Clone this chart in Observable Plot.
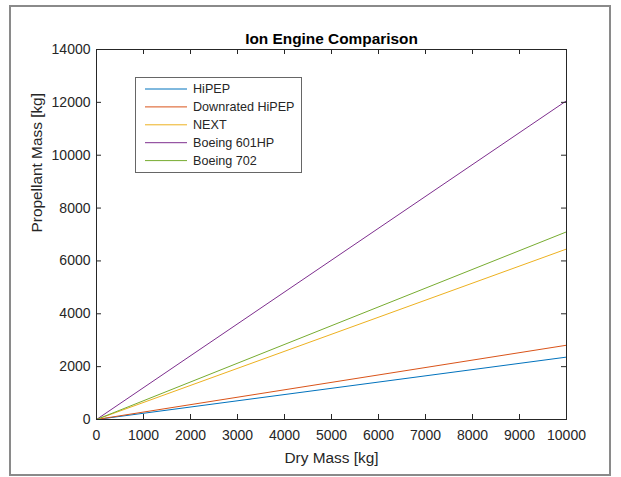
<!DOCTYPE html>
<html>
<head>
<meta charset="utf-8">
<script src="https://cdn.jsdelivr.net/npm/d3@7"></script>
<script src="https://cdn.jsdelivr.net/npm/@observablehq/plot@0.6"></script>
<style>
  html, body { margin: 0; padding: 0; background: white; }
  #wrap { position: relative; width: 621px; height: 477px; overflow: hidden; font-family: "Liberation Sans", Arial, Helvetica, sans-serif; }
  #border { position: absolute; left: 9px; top: 5px; width: 602px; height: 471px; box-sizing: border-box; border: 2px solid #8a8a8a; pointer-events: none; }
  #legend { position: absolute; left: 135px; top: 77px; }
</style>
</head>
<body>
<div id="wrap"><div id="chart"></div><div id="legend"></div><div id="border"></div></div>
<script>
// ---- data ----
const dryMass = [0, 10000];
const seriesNames = ["HiPEP", "Downrated HiPEP", "NEXT", "Boeing 601HP", "Boeing 702"];
const seriesColors = ["#0072BD", "#D95319", "#EDB120", "#7E2F8E", "#77AC30"];
const hipep = [0, 2360];
const downratedHipep = [0, 2810];
const next = [0, 6450];
const boeing601HP = [0, 12060];
const boeing702 = [0, 7100];
const xTicks = [0, 1000, 2000, 3000, 4000, 5000, 6000, 7000, 8000, 9000, 10000];
const yTicks = [0, 2000, 4000, 6000, 8000, 10000, 12000, 14000];
const titleText = "Ion Engine Comparison";
const xLabel = "Dry Mass [kg]";
const yLabel = "Propellant Mass [kg]";

const seriesValues = [hipep, downratedHipep, next, boeing601HP, boeing702];
const rows = [];
seriesNames.forEach((name, i) => {
  dryMass.forEach((x, j) => rows.push({series: name, x, y: seriesValues[i][j]}));
});

const W = 621, H = 477;
const mL = 96, mR = 55, mT = 49, mB = 58;
const pw = W - mL - mR, ph = H - mT - mB;
const ink = "#262626";
const tl = 5;

const chart = Plot.plot({
  width: W, height: H,
  marginLeft: mL, marginRight: mR, marginTop: mT, marginBottom: mB,
  style: {fontFamily: '"Liberation Sans", Arial, Helvetica, sans-serif', fontSize: "14px", background: "white", color: ink, overflow: "visible"},
  x: {domain: [0, 10000]},
  y: {domain: [0, 14000]},
  color: {domain: seriesNames, range: seriesColors},
  marks: [
    Plot.line(rows, {x: "x", y: "y", z: "series", stroke: "series", strokeWidth: 1}),
    Plot.frame({stroke: ink, strokeWidth: 1}),
    Plot.tickX(xTicks, {x: d => d, insetTop: ph - tl, stroke: ink}),
    Plot.tickX(xTicks, {x: d => d, insetBottom: ph - tl, stroke: ink}),
    Plot.tickY(yTicks, {y: d => d, insetRight: pw - tl, stroke: ink}),
    Plot.tickY(yTicks, {y: d => d, insetLeft: pw - tl, stroke: ink}),
    Plot.axisX({ticks: xTicks, tickSize: 0, tickPadding: 11, tickFormat: d => String(d), fontSize: 14, label: null, color: ink}),
    Plot.axisY({ticks: yTicks, tickSize: 0, tickPadding: 6, tickFormat: d => String(d), fontSize: 14, label: null, color: ink}),
    Plot.text([titleText], {frameAnchor: "top", lineAnchor: "middle", dy: -10, fontWeight: "bold", fontSize: 15.4, fill: "#000"}),
    Plot.text([xLabel], {frameAnchor: "bottom", lineAnchor: "middle", dy: 39, fontSize: 15.4, fill: ink}),
    Plot.text([yLabel], {frameAnchor: "left", lineAnchor: "middle", rotate: -90, dx: -59, dy: -2, fontSize: 15.4, fill: ink})
  ]
});
document.getElementById("chart").appendChild(chart);

// ---- legend ----
const lw = 166, lh = 95, rowH = 17.9, firstY = 12;
const leg = d3.select("#legend").append("svg")
  .attr("width", lw + 1).attr("height", lh + 1)
  .style("font-family", '"Liberation Sans", Arial, Helvetica, sans-serif')
  .style("font-size", "12.6px");
leg.append("rect").attr("x", 0.5).attr("y", 0.5).attr("width", lw).attr("height", lh)
  .attr("fill", "white").attr("stroke", "#666");
const items = leg.selectAll("g").data(seriesNames).join("g")
  .attr("transform", (d, i) => `translate(0,${firstY + i * rowH})`);
items.append("line").attr("x1", 10).attr("x2", 52).attr("y1", 0).attr("y2", 0)
  .attr("stroke", (d, i) => seriesColors[i]).attr("stroke-width", 1);
items.append("text").attr("x", 58).attr("y", 0).attr("dy", "0.35em").attr("fill", ink).text(d => d);
</script>
</body>
</html>
